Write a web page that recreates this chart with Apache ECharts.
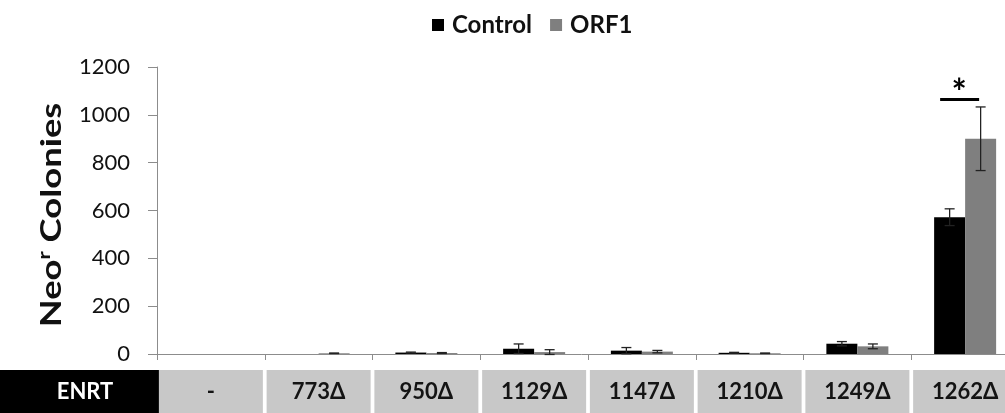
<!DOCTYPE html>
<html>
<head>
<meta charset="utf-8">
<script src="https://cdn.jsdelivr.net/npm/echarts@6/dist/echarts.min.js"></script>
<style>
html,body{margin:0;padding:0;background:#fff;}
#chart{width:1005px;height:413px;}
</style>
</head>
<body>
<div id="chart"></div>
<script>
// ---- data ----
const categories = ['-', '773Δ', '950Δ', '1129Δ', '1147Δ', '1210Δ', '1249Δ', '1262Δ'];
const controlValues = [0, 0, 6, 22, 14, 5, 43, 572];
const controlErrors = [0, 0, 2, 20, 13, 2, 9, 35];
const orf1Values = [0, 3, 4, 8, 10, 3, 32, 900];
const orf1Errors = [0, 1, 2, 10, 5, 1, 10, 133];
const yTicks = [0, 200, 400, 600, 800, 1000, 1200];
const significance = [['1262Δ', 1064, '*']];
const rowHeader = 'ENRT';

// ---- style constants ----
const FONT = 'Lato, "Open Sans", sans-serif';
const BAR_W = 31;
const AXIS_COLOR = '#8c8c8c';

function errData(vals, errs) {
  return vals.map((v, i) => [i, v - errs[i], v + errs[i], errs[i]]);
}
function errRender(sign) {
  return function (params, api) {
    if (api.value(3) <= 0) return null;
    const cx = api.coord([api.value(0), 0])[0] + sign * BAR_W / 2;
    const lo = api.coord([api.value(0), api.value(1)])[1];
    const hi = api.coord([api.value(0), api.value(2)])[1];
    const s = { stroke: '#222', lineWidth: 1.3 };
    return {
      type: 'group',
      children: [
        { type: 'line', shape: { x1: cx, y1: lo, x2: cx, y2: hi }, style: s },
        { type: 'line', shape: { x1: cx - 5, y1: hi, x2: cx + 5, y2: hi }, style: s },
        { type: 'line', shape: { x1: cx - 5, y1: lo, x2: cx + 5, y2: lo }, style: s }
      ]
    };
  };
}

const chart = echarts.init(document.getElementById('chart'), null, { renderer: 'canvas' });
chart.setOption({
  animation: false,
  backgroundColor: '#fff',
  textStyle: { fontFamily: FONT },
  legend: {
    left: 427, top: 8,
    itemWidth: 12, itemHeight: 12, itemGap: 18,
    icon: 'rect',
    data: ['Control', 'ORF1'],
    formatter: name => '{a|' + name + '}',
    textStyle: {
      fontSize: 24, fontWeight: 'bold', color: '#111', fontFamily: FONT,
      rich: { a: { fontSize: 24, fontWeight: 'bold', color: '#111', fontFamily: FONT, padding: [0, 0, 0, 3] } }
    }
  },
  grid: { left: 157, top: 67, width: 862, height: 287, containLabel: false, outerBoundsMode: 'none' },
  xAxis: {
    type: 'category',
    data: categories,
    axisLine: { lineStyle: { color: AXIS_COLOR, width: 1 } },
    axisTick: { show: true, length: 6, interval: 0, lineStyle: { color: AXIS_COLOR } },
    axisLabel: {
      interval: 0, margin: 16,
      width: 104, height: 43, lineHeight: 43,
      backgroundColor: '#c8c8c8',
      align: 'center',
      fontSize: 22, fontWeight: 'bold', color: '#141414', fontFamily: FONT
    },
    splitLine: { show: false }
  },
  yAxis: {
    type: 'value',
    min: yTicks[0], max: yTicks[yTicks.length - 1], interval: yTicks[1] - yTicks[0],
    axisLine: { show: true, lineStyle: { color: AXIS_COLOR, width: 1 } },
    axisTick: { show: true, length: 9, inside: false, lineStyle: { color: AXIS_COLOR } },
    axisLabel: { margin: 27, fontSize: 22, color: '#111', fontFamily: FONT, formatter: v => String(v) },
    splitLine: { show: false }
  },
  graphic: [
    {
      type: 'text',
      x: 52, y: 215,
      rotation: Math.PI / 2,
      scaleX: 1.3,
      style: {
        text: '{m|Neo}{s|r}{m| Colonies}',
        align: 'center', verticalAlign: 'middle',
        rich: {
          m: { fontSize: 28, fontWeight: 'bold', fill: '#111', fontFamily: FONT, lineHeight: 30 },
          s: { fontSize: 17, fontWeight: 'bold', fill: '#111', fontFamily: FONT, lineHeight: 30, padding: [0, 0, 14, 0] }
        }
      }
    },
    {
      type: 'group',
      left: 0, top: 370,
      children: [
        { type: 'rect', shape: { x: 0, y: 0, width: 163, height: 43 }, style: { fill: '#000' } },
        { type: 'text', x: 85, y: 22, style: { text: rowHeader, align: 'center', verticalAlign: 'middle', fontSize: 22, fontWeight: 'bold', fill: '#fff', fontFamily: FONT } }
      ]
    }
  ],
  series: [
    {
      name: 'Control', type: 'bar', data: controlValues,
      barWidth: BAR_W, barGap: '0%',
      itemStyle: { color: '#000' }
    },
    {
      name: 'ORF1', type: 'bar', data: orf1Values,
      barWidth: BAR_W, barGap: '0%',
      itemStyle: { color: '#7f7f7f' }
    },
    {
      type: 'custom', name: 'ControlErr', data: errData(controlValues, controlErrors),
      encode: { x: 0, y: [1, 2] }, renderItem: errRender(-1), z: 5, silent: true
    },
    {
      type: 'custom', name: 'ORF1Err', data: errData(orf1Values, orf1Errors),
      encode: { x: 0, y: [1, 2] }, renderItem: errRender(1), z: 5, silent: true
    },
    {
      type: 'custom', name: 'Sig', data: significance.map(d => [categories.indexOf(d[0]), d[1], d[2]]),
      encode: { x: 0, y: 1 }, z: 6, silent: true, clip: false,
      renderItem: function (params, api) {
        const c = api.coord([api.value(0), api.value(1)]);
        return {
          type: 'group',
          children: [
            { type: 'line', shape: { x1: c[0] - 25, y1: c[1], x2: c[0] + 14, y2: c[1] }, style: { stroke: '#000', lineWidth: 3 } },
            { type: 'text', x: c[0] - 6, y: c[1] + 12, style: { text: significance[params.dataIndex][2], align: 'center', verticalAlign: 'bottom', fontSize: 36, fontWeight: 'bold', fill: '#000', fontFamily: FONT } }
          ]
        };
      }
    }
  ]
});
</script>
</body>
</html>
